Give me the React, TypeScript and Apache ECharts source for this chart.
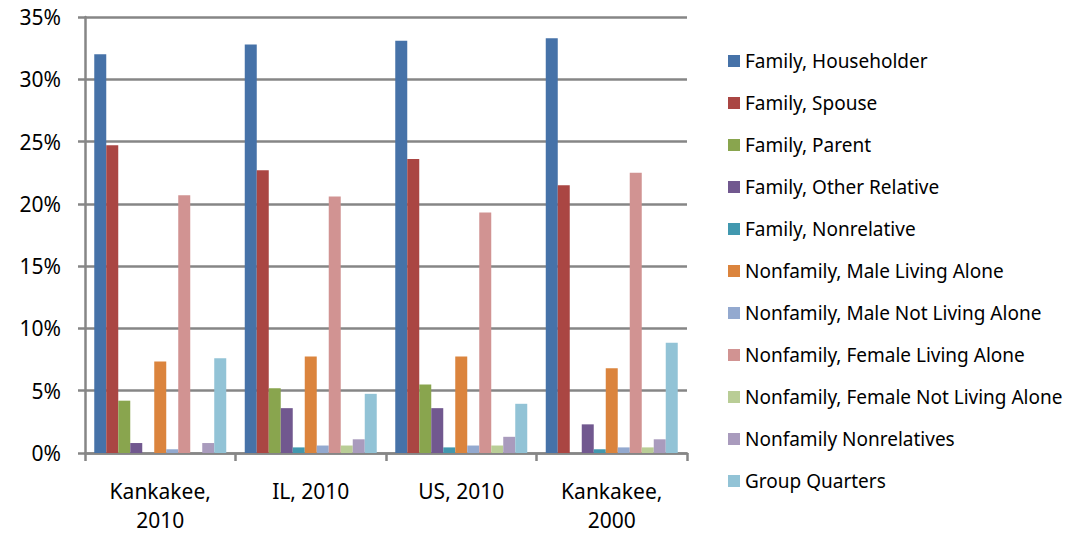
import React, { useEffect, useRef } from "react";
import * as echarts from "echarts";

const categories = ["Kankakee,\n2010", "IL, 2010", "US, 2010", "Kankakee,\n2000"];
const seriesNames = [
  "Family, Householder",
  "Family, Spouse",
  "Family, Parent",
  "Family, Other Relative",
  "Family, Nonrelative",
  "Nonfamily, Male Living Alone",
  "Nonfamily, Male Not Living Alone",
  "Nonfamily, Female Living Alone",
  "Nonfamily, Female Not Living Alone",
  "Nonfamily Nonrelatives",
  "Group Quarters",
];
const householder = [32.0, 32.8, 33.1, 33.3];
const spouse = [24.7, 22.7, 23.6, 21.5];
const parent = [4.2, 5.2, 5.5, 0];
const otherRelative = [0.8, 3.6, 3.6, 2.3];
const familyNonrelative = [0, 0.45, 0.45, 0.3];
const maleAlone = [7.35, 7.75, 7.75, 6.8];
const maleNotAlone = [0.3, 0.6, 0.6, 0.45];
const femaleAlone = [20.7, 20.6, 19.3, 22.5];
const femaleNotAlone = [0, 0.6, 0.6, 0.45];
const nonfamilyNonrelatives = [0.8, 1.1, 1.3, 1.1];
const groupQuarters = [7.6, 4.75, 3.95, 8.85];
const yTicks = { min: 0, max: 35, interval: 5 };

const seriesValues = [
  householder,
  spouse,
  parent,
  otherRelative,
  familyNonrelative,
  maleAlone,
  maleNotAlone,
  femaleAlone,
  femaleNotAlone,
  nonfamilyNonrelatives,
  groupQuarters,
];
const colors = [
  "#4672A8",
  "#AA4643",
  "#89A54E",
  "#71588F",
  "#4198AF",
  "#DB843D",
  "#93A9CF",
  "#D19392",
  "#B9CD96",
  "#A99BBD",
  "#92C3D6",
];

const FONT = "Noto Sans";

export default function App() {
  const ref = useRef<HTMLDivElement>(null);
  useEffect(() => {
    if (!ref.current) return;
    const chart = echarts.init(ref.current, null, { renderer: "svg" });
    chart.setOption({
      animation: false,
      color: colors,
      textStyle: { fontFamily: FONT },
      grid: { left: 85, right: 378, top: 17, bottom: 82, containLabel: false },
      legend: {
        orient: "vertical",
        left: 723,
        top: 46,
        itemWidth: 12,
        itemHeight: 12,
        itemGap: 22,
        icon: "rect",
        textStyle: { fontFamily: FONT, fontSize: 19, color: "#000", lineHeight: 20 },
        data: seriesNames,
      },
      xAxis: {
        type: "category",
        data: categories,
        axisLine: { lineStyle: { color: "#868686", width: 2.5 } },
        axisTick: { show: true, length: 8, lineStyle: { color: "#868686", width: 2.5 } },
        axisLabel: {
          fontFamily: FONT,
          fontSize: 21,
          color: "#000",
          lineHeight: 29,
          margin: 23,
          interval: 0,
        },
      },
      yAxis: {
        type: "value",
        min: yTicks.min,
        max: yTicks.max,
        interval: yTicks.interval,
        axisLine: { show: true, lineStyle: { color: "#868686", width: 2.5 } },
        axisTick: { show: true, length: 7, lineStyle: { color: "#868686", width: 2.5 } },
        splitLine: { lineStyle: { color: "#868686", width: 2.5 } },
        axisLabel: {
          fontFamily: FONT,
          fontSize: 21,
          color: "#000",
          margin: 24,
          formatter: "{value}%",
        },
      },
      series: seriesNames.map((name, i) => ({
        name,
        type: "bar",
        data: seriesValues[i],
        barGap: "0%",
        barCategoryGap: "12.3%",
        itemStyle: { color: colors[i] },
      })),
    });
    return () => chart.dispose();
  }, []);
  return (
    <div
      ref={ref}
      style={{ position: "fixed", left: 0, top: 0, width: 1065, height: 535, background: "#fff" }}
    />
  );
}
